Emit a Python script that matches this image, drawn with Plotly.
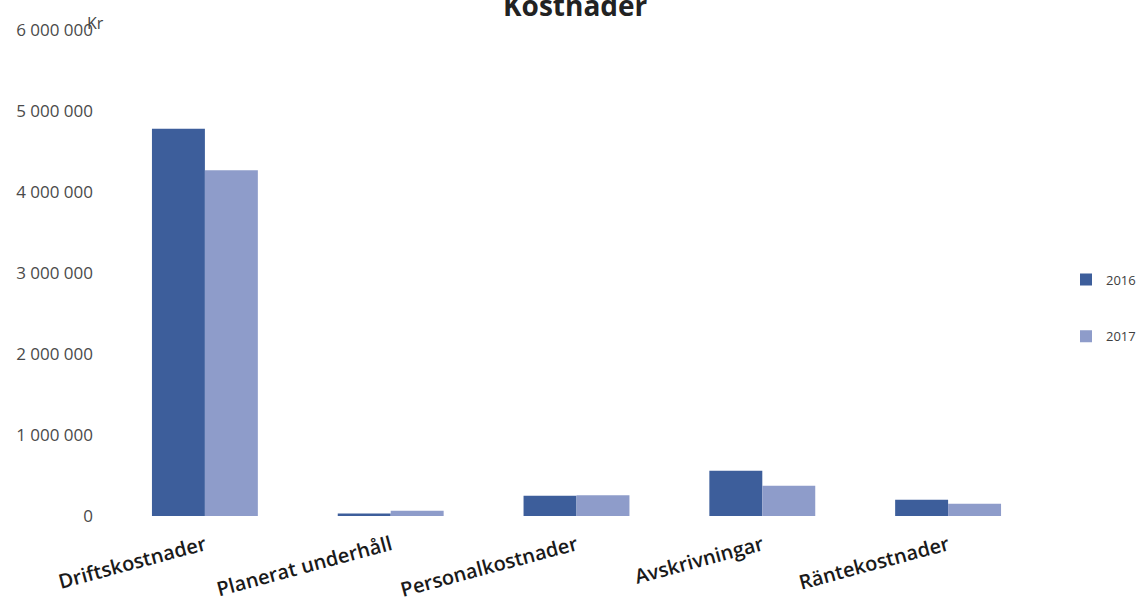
import plotly.graph_objects as go

categories = ["Driftskostnader", "Planerat underhåll", "Personalkostnader", "Avskrivningar", "Räntekostnader"]
values_2016 = [4780000, 30000, 250000, 560000, 200000]
values_2017 = [4270000, 65000, 255000, 375000, 150000]
tick_vals = [0, 1000000, 2000000, 3000000, 4000000, 5000000, 6000000]

W, H = 1140, 605
ml, mr, mt, mb = 112, 99, 30, 89

fig = go.Figure()
fig.add_trace(go.Bar(name="2016", x=categories, y=values_2016, marker_color="#3d5e9b",
                     marker_line_width=0, legendgroup="a"))
fig.add_trace(go.Bar(name="2017", x=categories, y=values_2017, marker_color="#8e9cca",
                     marker_line_width=0, legendgroup="b"))

pw = W - ml - mr
ph = H - mt - mb

fig.update_layout(
    width=W, height=H,
    margin=dict(l=ml, r=mr, t=mt, b=mb, autoexpand=False),
    paper_bgcolor="white", plot_bgcolor="white",
    barmode="group", bargap=0.43, bargroupgap=0,
    separators=", ",
    font=dict(family="Open Sans, Lato, sans-serif", color="#404040"),
    showlegend=True,
    legend=dict(x=(1066 - ml) / pw, y=(H - mb - 308) / ph, xanchor="left", yanchor="middle",
                traceorder="grouped", tracegroupgap=37,
                font=dict(size=13, color="#404040"), itemwidth=30),
    xaxis=dict(tickangle=-15, tickfont=dict(size=20, color="#1a1a1a", weight=600),
               showline=False, ticks="", showgrid=False, ticklabelstandoff=13),
    yaxis=dict(range=[0, 6000000], tickvals=tick_vals, tickformat=",.0f",
               showgrid=False, zeroline=False, showline=False, ticks="",
               tickfont=dict(size=17, color="#4a4a4a"), ticklabelstandoff=18),
    annotations=[
        dict(text="<b>Kostnader</b>", xref="paper", yref="paper",
             x=(575 - ml) / pw, y=(H - mb - 26) / ph, xanchor="center", yanchor="bottom",
             showarrow=False, font=dict(size=28, color="#222222")),
        dict(text="Kr", xref="paper", yref="paper",
             x=(95 - ml) / pw, y=(H - mb - 23) / ph, xanchor="center", yanchor="middle",
             showarrow=False, font=dict(size=16, color="#444444")),
    ],
)

fig.write_html("out.html")
